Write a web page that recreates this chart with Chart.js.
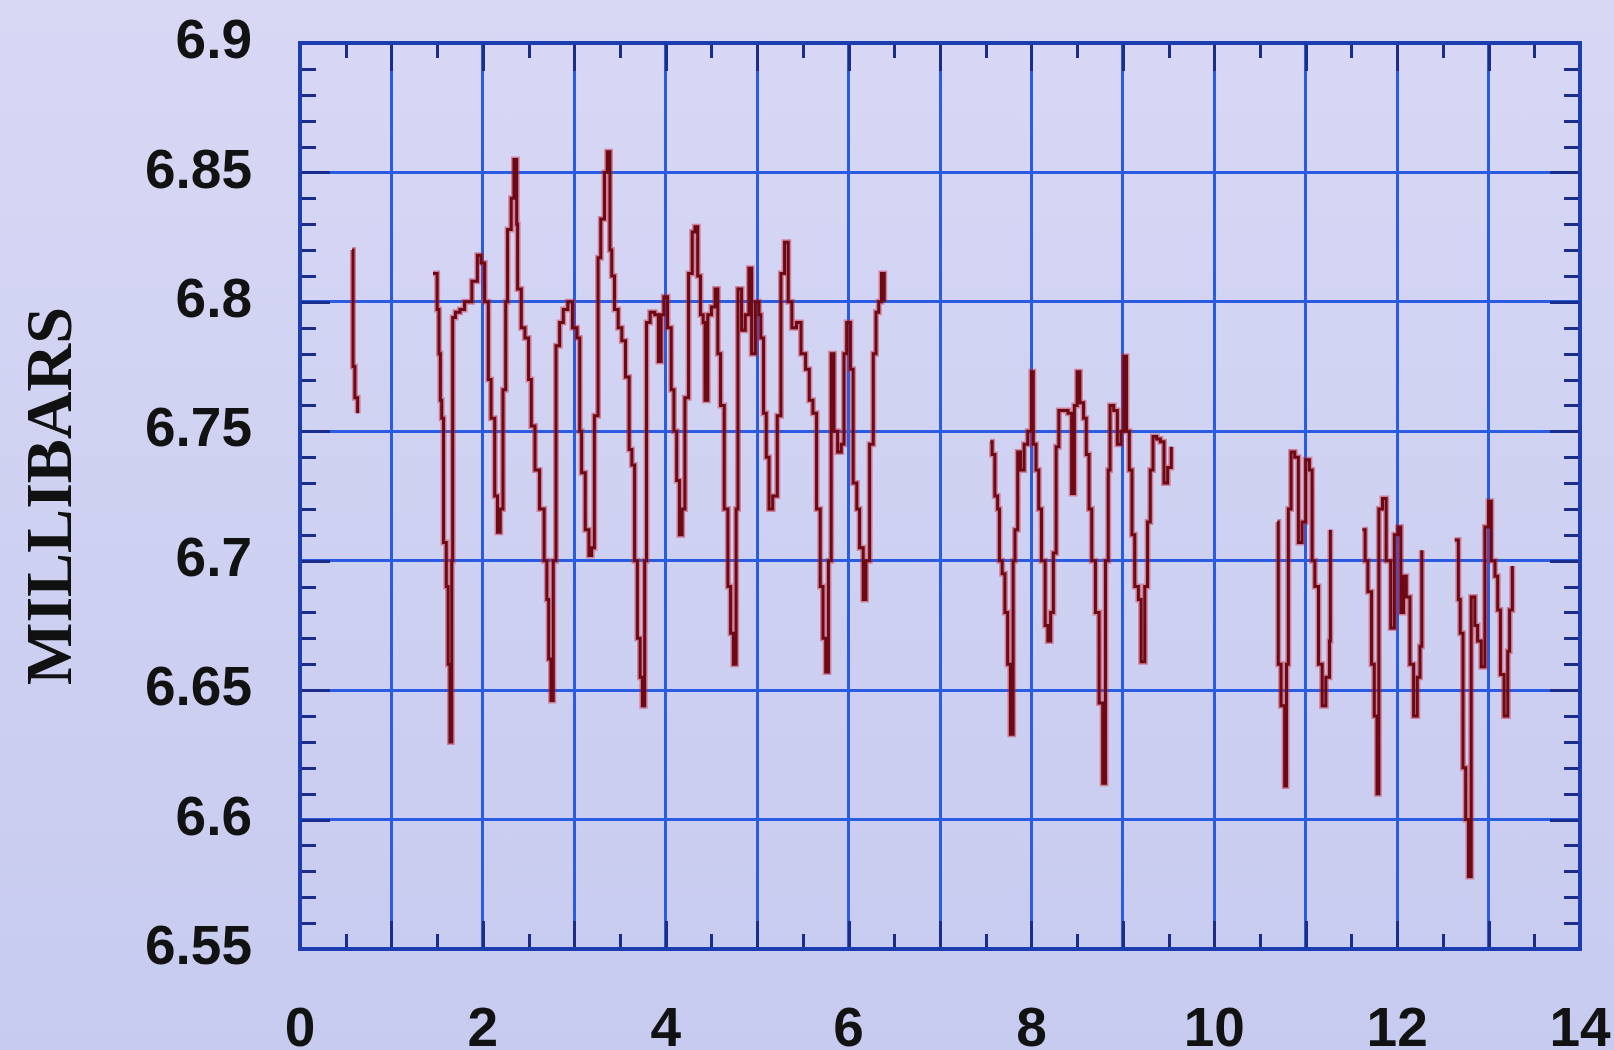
<!DOCTYPE html>
<html>
<head>
<meta charset="utf-8">
<script src="https://cdn.jsdelivr.net/npm/chart.js@4.4.1/dist/chart.umd.min.js"></script>
<style>
  html, body { margin: 0; padding: 0; }
  body {
    width: 1614px; height: 1050px; overflow: hidden;
    background: linear-gradient(to bottom, #d8d8f5 0%, #cfd1f2 50%, #c7cbef 100%);
  }
  canvas { display: block; }
</style>
</head>
<body>
<canvas id="pressure-chart" width="1614" height="1050"></canvas>
<script>

// x values (days) and pressure readings (mbar); null marks a gap in the record
const days = [
  0.57, 0.58, 0.60, 0.63, null,
  1.455, 1.50, 1.52, 1.535, 1.55, 1.57, 1.60, 1.62, 1.64, 1.66, 1.67, 1.70, 1.75, 1.80, 1.88,
  1.94, 1.98, 2.02, 2.06, 2.09, 2.13, 2.16, 2.19, 2.22, 2.25, 2.27, 2.31, 2.34, 2.37, 2.38,
  2.42, 2.46, 2.50, 2.53, 2.57, 2.62, 2.67, 2.70, 2.72, 2.745, 2.77, 2.80, 2.84, 2.88, 2.93,
  2.98, 3.03, 3.06, 3.08, 3.12, 3.16, 3.19, 3.22, 3.26, 3.29, 3.33, 3.36, 3.39, 3.41, 3.44,
  3.48, 3.52, 3.56, 3.60, 3.63, 3.66, 3.69, 3.72, 3.745, 3.77, 3.79, 3.83, 3.88, 3.92, 3.95,
  3.98, 4.02, 4.06, 4.09, 4.12, 4.15, 4.18, 4.21, 4.25, 4.29, 4.32, 4.35, 4.38, 4.41, 4.43,
  4.46, 4.50, 4.54, 4.57, 4.60, 4.64, 4.68, 4.71, 4.74, 4.77, 4.79, 4.83, 4.87, 4.91, 4.94,
  4.98, 5.02, 5.04, 5.07, 5.10, 5.13, 5.17, 5.22, 5.26, 5.30, 5.34, 5.38, 5.43, 5.48, 5.53,
  5.57, 5.61, 5.65, 5.69, 5.72, 5.75, 5.78, 5.81, 5.84, 5.88, 5.92, 5.95, 5.98, 6.02, 6.05,
  6.09, 6.12, 6.16, 6.19, 6.23, 6.27, 6.30, 6.33, 6.36, 6.39, null,
  7.55, 7.57, 7.60, 7.63, 7.65, 7.68, 7.71, 7.74, 7.77, 7.80, 7.82, 7.85, 7.88, 7.92, 7.96,
  8.00, 8.02, 8.05, 8.08, 8.11, 8.15, 8.18, 8.21, 8.24, 8.27, 8.30, 8.35, 8.40, 8.44, 8.47,
  8.50, 8.53, 8.57, 8.60, 8.63, 8.66, 8.70, 8.74, 8.78, 8.81, 8.84, 8.86, 8.90, 8.94, 8.98,
  9.01, 9.04, 9.07, 9.10, 9.13, 9.17, 9.20, 9.24, 9.27, 9.30, 9.33, 9.37, 9.41, 9.45, 9.49,
  9.53, null,
  10.69, 10.70, 10.73, 10.77, 10.79, 10.81, 10.84, 10.88, 10.92, 10.96, 11.00, 11.04, 11.07,
  11.10, 11.14, 11.18, 11.22, 11.26, 11.27, null,
  11.62, 11.65, 11.68, 11.72, 11.75, 11.78, 11.80, 11.84, 11.88, 11.93, 11.97, 12.01, 12.04,
  12.07, 12.10, 12.14, 12.18, 12.22, 12.25, 12.27, null,
  12.63, 12.67, 12.69, 12.72, 12.75, 12.78, 12.81, 12.85, 12.88, 12.92, 12.96, 13.00, 13.03,
  13.07, 13.10, 13.13, 13.17, 13.21, 13.23, 13.26
];

const mbar = [
  6.82, 6.775, 6.763, 6.757, null,
  6.811, 6.797, 6.78, 6.762, 6.755, 6.707, 6.69, 6.66, 6.630, 6.70, 6.794, 6.796, 6.797, 6.80, 6.808,
  6.818, 6.815, 6.80, 6.77, 6.755, 6.725, 6.711, 6.72, 6.766, 6.80, 6.828, 6.84, 6.855, 6.83, 6.805,
  6.79, 6.786, 6.77, 6.752, 6.735, 6.72, 6.70, 6.685, 6.662, 6.646, 6.70, 6.783, 6.792, 6.797, 6.80,
  6.79, 6.786, 6.75, 6.734, 6.712, 6.702, 6.705, 6.756, 6.817, 6.832, 6.85, 6.858, 6.82, 6.81, 6.797,
  6.790, 6.785, 6.771, 6.743, 6.737, 6.70, 6.67, 6.655, 6.644, 6.70, 6.792, 6.796, 6.795, 6.777, 6.795,
  6.802, 6.79, 6.766, 6.75, 6.731, 6.71, 6.72, 6.763, 6.811, 6.827, 6.829, 6.81, 6.795, 6.792, 6.762,
  6.795, 6.798, 6.805, 6.78, 6.76, 6.72, 6.69, 6.672, 6.660, 6.72, 6.805, 6.789, 6.795, 6.813, 6.78,
  6.80, 6.795, 6.786, 6.757, 6.74, 6.72, 6.725, 6.756, 6.811, 6.823, 6.80, 6.79, 6.792, 6.78, 6.774,
  6.762, 6.757, 6.72, 6.69, 6.67, 6.657, 6.70, 6.78, 6.75, 6.742, 6.745, 6.78, 6.792, 6.774, 6.73,
  6.72, 6.705, 6.685, 6.70, 6.745, 6.78, 6.796, 6.80, 6.811, 6.80, null,
  6.746, 6.741, 6.725, 6.72, 6.70, 6.695, 6.68, 6.66, 6.633, 6.70, 6.712, 6.742, 6.735, 6.745, 6.75,
  6.773, 6.745, 6.735, 6.72, 6.70, 6.675, 6.669, 6.68, 6.703, 6.744, 6.758, 6.758, 6.757, 6.726, 6.76,
  6.773, 6.761, 6.755, 6.741, 6.72, 6.70, 6.68, 6.645, 6.614, 6.70, 6.735, 6.76, 6.758, 6.745, 6.75,
  6.779, 6.75, 6.735, 6.71, 6.69, 6.685, 6.661, 6.69, 6.715, 6.735, 6.748, 6.747, 6.746, 6.730, 6.736,
  6.744, null,
  6.715, 6.66, 6.644, 6.613, 6.66, 6.72, 6.742, 6.74, 6.707, 6.715, 6.739, 6.735, 6.70,
  6.69, 6.66, 6.644, 6.655, 6.669, 6.712, null,
  6.712, 6.70, 6.688, 6.66, 6.64, 6.61, 6.72, 6.724, 6.70, 6.674, 6.71, 6.713, 6.68,
  6.694, 6.686, 6.66, 6.64, 6.655, 6.667, 6.704, null,
  6.708, 6.685, 6.672, 6.62, 6.60, 6.578, 6.686, 6.675, 6.669, 6.659, 6.713, 6.723, 6.70,
  6.694, 6.681, 6.656, 6.64, 6.665, 6.681, 6.698
];

const xTicks = [0, 1, 2, 3, 4, 5, 6, 7, 8, 9, 10, 11, 12, 13, 14];
const xTickLabels = ['0', '', '2', '', '4', '', '6', '', '8', '', '10', '', '12', '', '14'];
const yTicks = [6.55, 6.6, 6.65, 6.7, 6.75, 6.8, 6.85, 6.9];
const yTickLabels = ['6.55', '6.6', '6.65', '6.7', '6.75', '6.8', '6.85', '6.9'];

const points = days.map((d, i) => (d === null ? { x: NaN, y: null } : { x: d, y: mbar[i] }));

const gridBlue = '#2a5ce3';
const frameBlue = '#1c3db0';
const tickNavy = '#1a2c8c';

// minor ticks drawn on the inside of the frame, plus the heavy frame itself
const innerTicks = {
  id: 'innerTicks',
  afterDraw(chart) {
    const { ctx, chartArea: a, scales: { x, y } } = chart;
    ctx.save();
    ctx.strokeStyle = tickNavy;
    ctx.lineWidth = 3;
    ctx.beginPath();
    for (let v = 655; v <= 690; v++) {
      const py = Math.round(y.getPixelForValue(v / 100)) + 0.5;
      const len = v % 5 === 0 ? 30 : 16;
      ctx.moveTo(a.left, py); ctx.lineTo(a.left + len, py);
      ctx.moveTo(a.right, py); ctx.lineTo(a.right - len, py);
    }
    for (let h = 0; h <= 28; h++) {
      const px = Math.round(x.getPixelForValue(h / 2)) + 0.5;
      const len = h % 2 === 0 ? 28 : 15;
      ctx.moveTo(px, a.bottom); ctx.lineTo(px, a.bottom - len);
      ctx.moveTo(px, a.top); ctx.lineTo(px, a.top + len);
    }
    ctx.stroke();
    ctx.strokeStyle = frameBlue;
    ctx.lineWidth = 4;
    ctx.strokeRect(a.left, a.top, a.right - a.left, a.bottom - a.top);
    ctx.restore();
  }
};

const ctx = document.getElementById('pressure-chart');
const myChart = new Chart(ctx, {
  type: 'line',
  data: {
    datasets: [
      {
        // dark trace, drawn on top (first dataset is painted last)
        data: points,
        borderColor: '#6d0912',
        borderWidth: 3,
        pointRadius: 0,
        stepped: true,
        spanGaps: false
      },
      {
        // soft red fringe under the trace
        data: points,
        borderColor: 'rgba(205,30,50,0.45)',
        borderWidth: 6,
        pointRadius: 0,
        stepped: true,
        spanGaps: false
      }
    ]
  },
  options: {
    responsive: false,
    animation: false,
    devicePixelRatio: 1,
    layout: { padding: { left: 0, top: 43, right: 34, bottom: 0 } },
    plugins: { legend: { display: false }, tooltip: { enabled: false } },
    scales: {
      x: {
        type: 'linear',
        min: 0,
        max: 14,
        afterBuildTicks: (scale) => { scale.ticks = xTicks.map(v => ({ value: v })); },
        afterFit: (scale) => {
          scale.height = 101;
          scale.paddingLeft = 0;
          scale.paddingRight = 0;
        },
        ticks: {
          autoSkip: false,
          maxRotation: 0,
          padding: 49,
          color: '#121212',
          font: { family: 'Liberation Sans', size: 55, weight: 'bold' },
          callback: (value) => xTickLabels[xTicks.indexOf(value)]
        },
        grid: { color: gridBlue, lineWidth: 3, drawTicks: false },
        border: { display: false }
      },
      y: {
        min: 6.55,
        max: 6.9,
        afterBuildTicks: (scale) => { scale.ticks = yTicks.map(v => ({ value: v })); },
        afterFit: (scale) => {
          scale.width = 300;
          scale.paddingTop = 0;
          scale.paddingBottom = 0;
        },
        ticks: {
          autoSkip: false,
          padding: 48,
          color: '#121212',
          font: { family: 'Liberation Sans', size: 55, weight: 'bold' },
          callback: (value) => {
            const i = yTicks.findIndex(t => Math.abs(t - value) < 1e-6);
            return i >= 0 ? yTickLabels[i] : '';
          }
        },
        grid: { color: gridBlue, lineWidth: 3, drawTicks: false },
        border: { display: false },
        title: {
          display: true,
          text: 'MILLIBARS',
          color: '#111111',
          font: { family: 'Liberation Serif', size: 66, weight: 'bold' },
          padding: { top: 14, bottom: 0 }
        }
      }
    }
  },
  plugins: [innerTicks]
});
</script>
</body>
</html>
